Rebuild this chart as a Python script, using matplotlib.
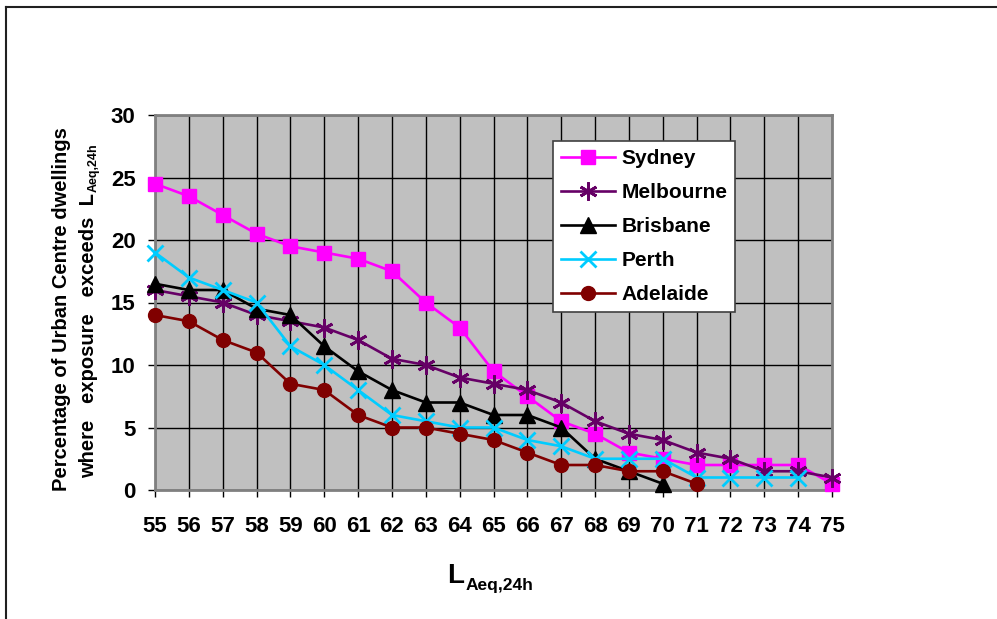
import matplotlib
matplotlib.use("Agg")
import matplotlib.pyplot as plt
from matplotlib.lines import Line2D

plt.rcParams['font.family'] = ['Liberation Sans', 'DejaVu Sans']
plt.rcParams['font.weight'] = 'bold'

x_levels = list(range(55, 76))
sydney = [24.5, 23.5, 22, 20.5, 19.5, 19, 18.5, 17.5, 15, 13, 9.5, 7.5, 5.5, 4.5, 3, 2.5, 2, 2, 2, 2, 0.5]
melbourne = [16, 15.5, 15, 14, 13.5, 13, 12, 10.5, 10, 9, 8.5, 8, 7, 5.5, 4.5, 4, 3, 2.5, 1.5, 1.5, 1]
brisbane = [16.5, 16, 16, 14.5, 14, 11.5, 9.5, 8, 7, 7, 6, 6, 5, 2.5, 1.5, 0.5]
perth = [19, 17, 16, 15, 11.5, 10, 8, 6, 5.5, 5, 5, 4, 3.5, 2.5, 2.5, 2.5, 1, 1, 1, 1]
adelaide = [14, 13.5, 12, 11, 8.5, 8, 6, 5, 5, 4.5, 4, 3, 2, 2, 1.5, 1.5, 0.5]
y_ticks = [0, 5, 10, 15, 20, 25, 30]

W, H = 997, 619
fig = plt.figure(figsize=(W/100, H/100), dpi=100)
ax = fig.add_axes([155/W, 1-490/H, 677/W, 375/H])
ax.set_facecolor('#C0C0C0')

lw = 1.9
ax.plot(x_levels[:len(sydney)], sydney, color='#FF00FF', lw=lw, marker='s', ms=10,
        mfc='#FF00FF', mec='#FF00FF', label='Sydney', clip_on=False, zorder=3)
ax.plot(x_levels[:len(melbourne)], melbourne, color='#660066', lw=lw, marker=(6, 2, 0), ms=13,
        mew=2, mec='#660066', label='Melbourne', clip_on=False, zorder=3)
ax.plot(x_levels[:len(brisbane)], brisbane, color='black', lw=lw, marker='^', ms=11,
        mfc='black', mec='black', label='Brisbane', clip_on=False, zorder=3)
ax.plot(x_levels[:len(perth)], perth, color='#00CCFF', lw=lw, marker='x', ms=11,
        mew=2, mec='#00CCFF', label='Perth', clip_on=False, zorder=3)
ax.plot(x_levels[:len(adelaide)], adelaide, color='#800000', lw=lw, marker='o', ms=10,
        mfc='#800000', mec='#800000', label='Adelaide', clip_on=False, zorder=3)

ax.set_xlim(55, 75)
ax.set_ylim(0, 30)
ax.set_xticks(x_levels)
ax.set_yticks(y_ticks)
ax.grid(True, color='black', lw=1, zorder=1)
ax.set_axisbelow(True)
for s in ax.spines.values():
    s.set_color('#808080')
    s.set_linewidth(2)
ax.tick_params(axis='x', length=5, width=1, color='black', labelsize=16, pad=14)
ax.tick_params(axis='y', length=5, width=1, color='black', labelsize=16, pad=9)
for lab in ax.get_xticklabels() + ax.get_yticklabels():
    lab.set_fontweight('bold')

leg = ax.legend(loc='upper left', bbox_to_anchor=(0.588, 0.9307), borderaxespad=0,
                fontsize=15, handlelength=2.6, labelspacing=0.72, borderpad=0.38,
                handletextpad=0.3, fancybox=False, framealpha=1,
                edgecolor='#404040', facecolor='white')
leg.get_frame().set_linewidth(1.2)
for t in leg.get_texts():
    t.set_fontweight('bold')

# x-axis label: L with subscript
fig.text(464/W, 1-583/H, 'L', fontsize=20, fontweight='bold',
         ha='right', va='baseline')
fig.text(466/W, 1-590/H, 'Aeq,24h', fontsize=12.5, fontweight='bold',
         ha='left', va='baseline')

# y-axis label (rotated, two lines)
fig.text(67/W, 1-309/H, 'Percentage of Urban Centre dwellings', rotation=90,
         rotation_mode='anchor', ha='center', va='baseline', fontsize=14.5,
         fontweight='bold')
fig.text(94/W, 1-193/H, 'where   exposure   exceeds  L', rotation=90,
         rotation_mode='anchor', ha='right', va='baseline', fontsize=14.5,
         fontweight='bold')
fig.text(97/W, 1-192/H, 'Aeq,24h', rotation=90,
         rotation_mode='anchor', ha='left', va='baseline', fontsize=9,
         fontweight='bold')

fig.add_artist(Line2D([6/W, 6/W], [0, 1-7/H], transform=fig.transFigure,
                      color='#202020', lw=1.5))
fig.add_artist(Line2D([6/W, 1], [1-7/H, 1-7/H], transform=fig.transFigure,
                      color='#202020', lw=1.5))

fig.savefig('out.png', dpi=100)
